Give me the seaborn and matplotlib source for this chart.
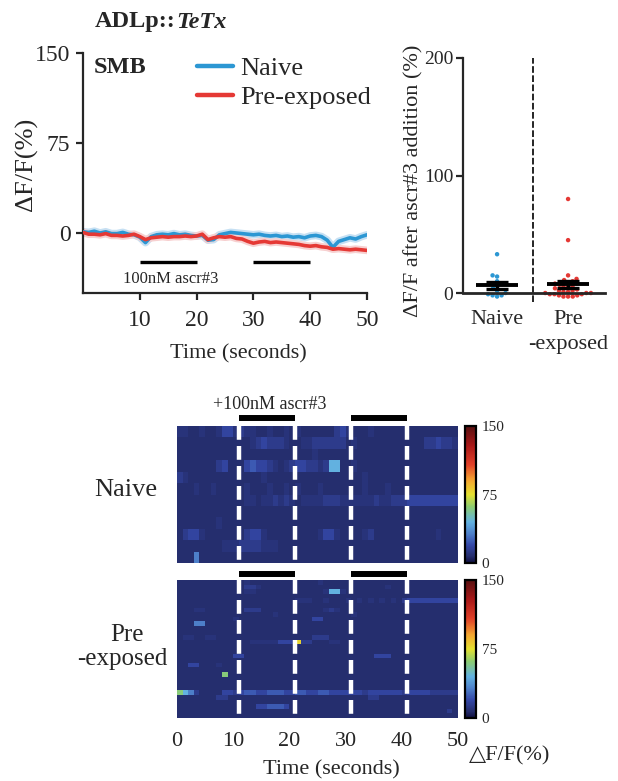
import numpy as np
import pandas as pd
import matplotlib
matplotlib.use("Agg")
import matplotlib.pyplot as plt
import seaborn as sns
from matplotlib.colors import LinearSegmentedColormap
from matplotlib.lines import Line2D

# ---------------- mean calcium traces (ΔF/F %, 1 s sampling) ----------------
time_s = list(range(51))
naive_trace = [1.0, 0.5, 1.5, 0.0, 1.0, -0.5, -0.5, 0.5, -1.0, -1.5,
               -3.5, -8.0, -3.0, -1.5, -1.0, -1.5, -0.5, -1.5, -1.0, -2.0,
               -2.5, -2.0, -6.0, -5.5, -1.5, -0.5, 0.5, 0.0, -0.5, -1.0,
               -1.5, -1.0, -2.0, -2.5, -2.0, -3.0, -2.5, -3.5, -3.0, -4.0,
               -2.5, -2.0, -3.0, -6.0, -12.0, -7.0, -5.5, -4.0, -5.0, -3.0,
               -1.5]
preexposed_trace = [0.5, -1.0, -1.0, -1.5, -0.5, -2.0, -2.0, -2.5, -2.0, -1.0,
                    -3.0, -5.5, -4.0, -3.5, -3.0, -3.5, -3.0, -3.0, -2.5, -3.0,
                    -2.5, -1.0, -5.5, -4.0, -3.0, -3.5, -3.0, -4.5, -5.0, -7.0,
                    -8.5, -7.5, -7.0, -8.0, -7.5, -8.0, -8.5, -9.0, -9.5, -10.5,
                    -11.0, -10.5, -11.5, -12.0, -13.5, -13.0, -13.5, -14.0, -13.5, -14.0,
                    -14.5]
trace_stim = [(10, 20), (30, 40)]

# ---------------- per-animal response after ascr#3 addition (%) ----------------
naive_resp = [33, 15, 14, 10, 8, 6, 4, 2, 0, -1, -2, -2, -3]
pre_resp = [80, 45, 15, 12, 11, 10, 9, 8, 8, 7, 6, 5, 5, 4, 3, 2, 2, 1, 1,
            0, 0, 0, -1, -1, -1, -2, -2, -3, -3, -3]

# ---------------- single-animal heatmaps (one char per second) ----------------
heat_levels = {'0': 8, '1': 10, '2': 14, '3': 18, '4': 24,
               '5': 32, '6': 45, '7': 60, '8': 78, '9': 90}
naive_rows = [
    "1100100133" "1211001001" "0100000023" "1000100000" "0000000000",
    "0000000000" "0001232221" "0011222222" "0100000000" "0000223221",
    "0000000000" "0000000000" "0000100000" "0000000000" "0000000000",
    "0000000230" "0034332101" "2332212660" "0100000000" "0000000000",
    "2100000000" "0000010000" "0000000000" "0001000000" "0000000000",
    "0001001000" "0010001001" "0100010000" "0001000100" "0000000000",
    "0000000000" "0011011212" "1011112221" "1111121122" "2333333333",
    "0000000000" "0000000000" "0000000000" "0000000000" "0000000000",
    "0000000100" "0000000000" "0000000000" "0000000000" "0000000000",
    "0233100000" "0023310000" "0000013310" "0001200000" "0000001000",
    "0000000011" "1222211100" "0000000000" "0000000000" "0000000000",
    "0005000000" "0000000000" "0000000000" "0000000000" "0000000000",
]
pre_rows = [
    "0000000000" "0010000000" "0000010000" "0000000000" "0000000000",
    "0000000000" "0022100000" "0000000000" "0000000100" "0000000000",
    "0000000000" "0011000000" "0000001661" "0000000000" "0000000000",
    "0000000000" "0000000000" "0000000000" "0000000000" "0000000000",
    "0000000000" "0000000000" "0111001000" "1010101010" "2333333333",
    "0000000000" "0000000000" "0000000000" "0000000000" "0000000000",
    "0001100000" "0022200000" "0000001210" "0000000000" "0000000000",
    "0000000000" "0000000100" "0000000000" "0100000000" "0000000000",
    "0000000000" "1000000000" "0000330000" "0000000000" "0000000000",
    "0005500000" "0000000000" "0000000000" "0000000000" "0000000000",
    "0000000000" "0000000000" "0000000000" "0000000000" "0000000000",
    "0000000000" "0000000000" "0000000000" "0000000000" "0000000000",
    "0110011000" "0000000000" "0000222000" "0000000000" "0000000000",
    "0000000000" "0001111133" "3822000110" "0000000000" "0000000000",
    "0000000000" "0000000000" "0000000000" "0000000000" "0000000000",
    "0000000000" "0000000000" "0000000000" "0000000000" "0000000000",
    "0000000000" "3300000000" "0000000000" "0000033300" "0000000000",
    "0000000000" "0000000000" "0000000000" "0000000000" "0000000000",
    "0033000100" "0000000000" "0000000000" "0000000000" "0000000000",
    "0000000000" "0000000000" "0000000000" "0000000000" "0000000000",
    "0000000070" "0000000000" "0000000000" "0000000000" "0000000000",
    "0000000000" "0000000000" "0000000000" "0000000000" "0000000000",
    "0000000000" "0000000000" "0000000000" "0000000000" "0000000000",
    "0000000000" "0000000000" "0000000000" "0000000000" "0000000000",
    "7652000033" "2344334443" "3443344333" "3332333333" "2333322222",
    "0000000220" "0000000000" "0000000000" "0000220000" "0000000000",
    "0000000000" "0000000000" "0000000000" "0000000000" "0000000000",
    "0000000000" "0000334443" "0000000000" "0000000000" "0000000000",
    "0000000000" "0000000000" "0000000000" "0000000000" "0000000020",
    "0000000000" "0000000000" "0000000000" "0000000000" "0000000000",
]
heat_stim = [(11, 21), (31, 41)]
heat_ticks = [0, 10, 20, 30, 40, 50]

# ---------------- style ----------------
sns.set_style("ticks")
plt.rcParams['font.family'] = ['Liberation Serif', 'DejaVu Serif', 'DejaVu Sans']
plt.rcParams['axes.linewidth'] = 1.6
plt.rcParams['xtick.major.width'] = 1.6
plt.rcParams['ytick.major.width'] = 1.6

W, H = 618, 781
fig = plt.figure(figsize=(W / 100, H / 100), dpi=100)


def box(l, t, r, b):
    return [l / W, 1 - b / H, (r - l) / W, (b - t) / H]


blue, red = '#2c97d3', '#e53935'

# ================= trace panel =================
ax1 = fig.add_axes(box(83, 53, 367, 293))
trace_df = pd.DataFrame({
    'Time': time_s * 2,
    'dff': naive_trace + preexposed_trace,
    'Condition': ['Naive'] * len(naive_trace) + ['Pre-exposed'] * len(preexposed_trace),
})
palette = {'Naive': blue, 'Pre-exposed': red}
halo = {'Naive': '#c6e0f3', 'Pre-exposed': '#f7d0d0'}
for cond in ['Naive', 'Pre-exposed']:
    sub = trace_df[trace_df['Condition'] == cond]
    ax1.plot(sub['Time'], sub['dff'], color=halo[cond], lw=5.5, zorder=1,
             solid_joinstyle='round')
sns.lineplot(data=trace_df, x='Time', y='dff', hue='Condition', palette=palette,
             lw=2.6, ax=ax1, legend=False, zorder=3)
ax1.set_xlim(0, 50)
ax1.set_ylim(-50, 150)
ax1.set_xticks([10, 20, 30, 40, 50])
ax1.set_yticks([0, 75, 150])
ax1.tick_params(labelsize=17, length=5, pad=4)
ax1.tick_params(axis='x', pad=7)
sns.despine(ax=ax1)
for on, off in trace_stim:
    ax1.plot([on, off], [-24, -24], color='k', lw=2.4, solid_capstyle='butt')
ax1.text(15.4, -38, '100nM ascr#3', ha='center', va='center', fontsize=12)
ax1.text(0.039, 0.94, 'SMB', transform=ax1.transAxes, fontsize=17.5,
         fontweight='bold', va='center', ha='left')
ax1.set_xlabel('Time (seconds)', fontsize=16)
ax1.xaxis.set_label_coords(0.546, -0.2125)
ax1.set_ylabel('ΔF/F(%)', fontsize=19)
ax1.yaxis.set_label_coords(-0.158, 0.5375)
handles = [Line2D([], [], color=palette[k], lw=3.2) for k in palette]
ax1.legend(handles, list(palette), loc='upper left', bbox_to_anchor=(0.401, 0.985),
           frameon=False, fontsize=19, handlelength=1.35, handletextpad=0.3,
           labelspacing=0.22, borderpad=0, borderaxespad=0)

title = fig.text(95 / W, 1 - 22 / H, 'ADLp::', fontsize=17.5, fontweight='bold',
                 va='center', ha='left')
ax1.annotate('TeTx', xy=(1, 0.5), xycoords=title, va='center', ha='left',
             fontsize=17.5, fontweight='bold', fontstyle='italic',
             annotation_clip=False)

# ================= response scatter panel =================
ax2 = fig.add_axes(box(463, 58, 605, 302.4))
resp_df = pd.DataFrame({
    'group': ['Naive'] * len(naive_resp) + ['Pre\n-exposed'] * len(pre_resp),
    'resp': naive_resp + pre_resp,
})
sns.swarmplot(data=resp_df, x='group', y='resp', hue='group',
              palette={'Naive': blue, 'Pre\n-exposed': red}, size=3.2,
              ax=ax2, legend=False, zorder=2)
for i, vals in enumerate([naive_resp, pre_resp]):
    v = np.asarray(vals, float)
    m = v.mean()
    s = v.std(ddof=1) / np.sqrt(len(v))
    ax2.hlines(m, i - 0.29, i + 0.29, color='k', lw=2.8, zorder=4)
    ax2.hlines([m - s, m + s], i - 0.15, i + 0.15, color='k', lw=2.4, zorder=4)
    ax2.vlines(i, m - s, m + s, color='k', lw=2.4, zorder=4)
ax2.set_xlim(-0.48, 1.52)
ax2.set_ylim(-8, 200)
ax2.axvline(0.5, color='k', lw=1.2, ls=(0, (4, 1.5)), zorder=1)
ax2.spines['top'].set_visible(False)
ax2.spines['right'].set_visible(False)
ax2.spines['bottom'].set_position(('data', 0))
ax2.spines['bottom'].set_linewidth(2.0)
ax2.spines['left'].set_bounds(0, 200)
ax2.set_yticks([0, 100, 200])
ax2.tick_params(axis='y', labelsize=14, length=5, pad=2)
ax2.tick_params(axis='x', labelsize=16, length=0, pad=12)
for lbl in ax2.get_xticklabels():
    lbl.set_linespacing(1.45)
ax2.set_xlabel('')
ax2.set_ylabel('ΔF/F after ascr#3 addition (%)', fontsize=16)
ax2.yaxis.set_label_coords(-0.28, 0.497)

# ================= heatmaps =================
cmap = LinearSegmentedColormap.from_list('dff', [
    (0.00, '#101040'), (0.053, '#262f70'), (0.13, '#3448a8'), (0.22, '#4f84cc'),
    (0.30, '#62b2e0'), (0.41, '#8ccc70'), (0.50, '#e4e030'), (0.60, '#f4a830'),
    (0.72, '#e04028'), (0.86, '#a81818'), (1.00, '#581010')])


def decode(rows):
    return np.array([[heat_levels[c] for c in r] for r in rows], float)


def draw_heat(mat, hbox, cbox, bar_y):
    ax = fig.add_axes(box(*hbox))
    cax = fig.add_axes(box(*cbox))
    sns.heatmap(mat, cmap=cmap, vmin=0, vmax=150, ax=ax, cbar_ax=cax,
                xticklabels=False, yticklabels=False)
    for t in [e for w in heat_stim for e in w]:
        ax.plot([t, t], [1, 0], transform=ax.get_xaxis_transform(), color='white',
                lw=3.2, dashes=(3.1, 1.4), solid_capstyle='butt')
    for on, off in heat_stim:
        ax.plot([on, off], [bar_y, bar_y], transform=ax.get_xaxis_transform(),
                color='k', lw=4.3, solid_capstyle='butt', clip_on=False)
    cax.set_yticks([0, 75, 150])
    cax.set_yticklabels(['0', '75', '150'])
    cax.tick_params(length=0, labelsize=11, pad=4)
    cb = ax.collections[0].colorbar
    cb.outline.set_edgecolor('k')
    cb.outline.set_linewidth(1.6)
    return ax


axh1 = draw_heat(decode(naive_rows), (177, 426, 458, 563), (465, 426, 476, 563), 1.058)
axh2 = draw_heat(decode(pre_rows), (177, 580, 458, 718), (465, 580, 476, 718), 1.047)
axh2.set_xticks(heat_ticks)
axh2.set_xticklabels([str(t) for t in heat_ticks], rotation=0)
axh2.tick_params(axis='x', length=0, labelsize=16, pad=10)

axh1.text(0.331, 1.16, '+100nM ascr#3', transform=axh1.transAxes, ha='center',
          va='center', fontsize=13)
fig.text(126 / W, 1 - 490 / H, 'Naive', fontsize=19, ha='center', va='center')
fig.text(127 / W, 1 - 635 / H, 'Pre', fontsize=18, ha='center', va='center')
fig.text(122 / W, 1 - 659 / H, '-exposed', fontsize=18, ha='center', va='center')
fig.text(331 / W, 1 - 770 / H, 'Time (seconds)', fontsize=16, ha='center', va='center')
fig.text(469 / W, 1 - 756 / H, '△F/F(%)', fontsize=16, ha='left', va='center')

fig.savefig('out.png', dpi=100)
